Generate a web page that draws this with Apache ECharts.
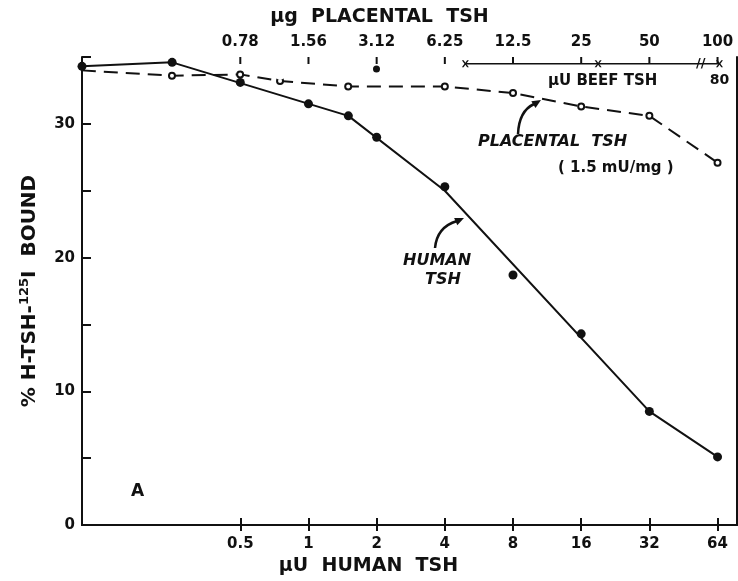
<!DOCTYPE html>
<html>
<head>
<meta charset="utf-8">
<script src="https://cdn.jsdelivr.net/npm/echarts@6/dist/echarts.min.js"></script>
<style>
  html, body { margin: 0; padding: 0; background: #fff; }
  #chart { width: 738px; height: 581px; }
</style>
</head>
<body>
<div id="chart"></div>
<script>
// bottom axis: uU human TSH, top axis: ug placental TSH (0.78 ug sits over 0.5 uU)
var humanTicks = [0.5, 1, 2, 4, 8, 16, 32, 64];
var placentalLabels = ['0.78', '1.56', '3.12', '6.25', '12.5', '25', '50', '100'];
var ugPerUU = 1.5625;
var humanRange = [0.1, 78];
var boundRange = [0, 35];

// human TSH (filled dots), the drawn line is a hand fit, not point to point
var humanDose = [0.1, 0.25, 0.5, 1, 1.5, 2, 4, 8, 16, 32, 64];
var humanBound = [34.3, 34.6, 33.1, 31.5, 30.6, 29.0, 25.3, 18.7, 14.3, 8.5, 5.1];
var humanFitDose = [0.1, 0.25, 1.5, 4, 32, 64];
var humanFitBound = [34.3, 34.6, 30.6, 25.0, 8.5, 5.1];

// placental TSH in ug (open circles, dashed)
var placentalDose = [0.156, 0.39, 0.78, 1.17, 2.34, 6.25, 12.5, 25, 50, 100];
var placentalBound = [34.0, 33.6, 33.7, 33.2, 32.8, 32.8, 32.3, 31.3, 30.6, 27.1];
var placentalExtraDose = [1.17, 1.56];
var placentalExtraBound = [33.6, 32.6];
var strayDose = [3.12];
var strayBound = [34.1];

// beef TSH scale marks along the top (placed in ug placental units)
var beefPos = [7.7, 29.7, 102];
var beefLevel = 34.5;
var beefLabels = ['', '', '80'];

function pairs(xs, ys, k) {
  return xs.map(function (x, i) { return [x / (k || 1), ys[i]]; });
}

var FONT = 'DejaVu Sans';
var INK = '#111';
var chart = echarts.init(document.getElementById('chart'));

var option = {
  backgroundColor: '#fff',
  animation: false,
  textStyle: { fontFamily: FONT, color: INK },
  grid: { left: 82, right: 1, top: 57, bottom: 51 },
  xAxis: [
    {
      type: 'log', logBase: 2, position: 'bottom',
      min: humanRange[0], max: humanRange[1],
      name: '\u00b5U  HUMAN  TSH', nameLocation: 'middle', nameGap: 26,
      nameTextStyle: { fontSize: 19, fontWeight: 'bold', color: INK, padding: [0, 82, 0, 0] },
      axisLine: { show: true, lineStyle: { color: INK, width: 2 } },
      axisTick: { show: true, inside: true, length: 7, lineStyle: { color: INK, width: 2 }, customValues: humanTicks },
      axisLabel: { customValues: humanTicks, margin: 12, fontSize: 15, fontWeight: 'bold', color: INK,
        formatter: function (v) { return String(+v.toFixed(2)); } },
      splitLine: { show: false }
    },
    {
      // same scale as the bottom, labelled in ug of placental TSH
      type: 'log', logBase: 2, position: 'top',
      min: humanRange[0], max: humanRange[1],
      name: '\u00b5g  PLACENTAL  TSH', nameLocation: 'middle', nameGap: 30,
      nameTextStyle: { fontSize: 19, fontWeight: 'bold', color: INK, padding: [0, 60, 0, 0] },
      axisLine: { show: true, lineStyle: { color: INK, width: 2 } },
      axisTick: { show: true, inside: true, length: 6, lineStyle: { color: INK, width: 2 }, customValues: humanTicks },
      axisLabel: { customValues: humanTicks, margin: 7, fontSize: 15, fontWeight: 'bold', color: INK,
        formatter: function (v) {
          var i = humanTicks.indexOf(+v.toFixed(2));
          return i >= 0 ? placentalLabels[i] : '';
        } },
      splitLine: { show: false }
    }
  ],
  yAxis: [
    {
      type: 'value', position: 'left', min: boundRange[0], max: boundRange[1], interval: 5,
      name: '{m|% H-TSH-}{s|125}{m|I  BOUND}', nameLocation: 'middle', nameGap: 40,
      nameTextStyle: {
        rich: {
          m: { fontSize: 20, fontWeight: 'bold', color: INK, lineHeight: 24, fontFamily: FONT },
          s: { fontSize: 13, fontWeight: 'bold', color: INK, lineHeight: 12, verticalAlign: 'top', fontFamily: FONT }
        }
      },
      axisLine: { show: true, lineStyle: { color: INK, width: 2 } },
      axisTick: { show: true, inside: true, length: 9, lineStyle: { color: INK, width: 2 } },
      axisLabel: { margin: 7, fontSize: 15, fontWeight: 'bold', color: INK,
        formatter: function (v) { return v % 10 === 0 && v < 35 ? String(v) : ''; } },
      splitLine: { show: false }
    },
    {
      type: 'value', position: 'right', min: boundRange[0], max: boundRange[1],
      axisLine: { show: true, lineStyle: { color: INK, width: 2 } },
      axisTick: { show: false }, axisLabel: { show: false }, splitLine: { show: false }
    }
  ],
  series: [
    {
      // tick marks hanging from the top axis
      name: 'top ticks', type: 'scatter', xAxisIndex: 1, yAxisIndex: 0,
      data: humanTicks.map(function (t) { return [t, boundRange[1]]; }),
      symbol: 'rect', symbolSize: [2, 7], symbolOffset: [0, 3.5],
      itemStyle: { color: INK, opacity: 1 }, silent: true, clip: false
    },
    {
      name: 'human fit', type: 'line', xAxisIndex: 0, yAxisIndex: 0,
      data: pairs(humanFitDose, humanFitBound),
      showSymbol: false, lineStyle: { color: INK, width: 2 }, z: 2
    },
    {
      name: 'human', type: 'scatter', xAxisIndex: 0, yAxisIndex: 0,
      data: pairs(humanDose, humanBound),
      symbol: 'circle', symbolSize: 9, itemStyle: { color: INK, opacity: 1 }, z: 4
    },
    {
      name: 'placental', type: 'line', xAxisIndex: 1, yAxisIndex: 0,
      data: pairs(placentalDose, placentalBound, ugPerUU).map(function (p, i) {
        return i === 0 ? { value: p, symbol: 'none' } : p;
      }),
      symbol: 'emptyCircle', symbolSize: 6,
      itemStyle: { color: INK, borderWidth: 2 },
      lineStyle: { color: INK, width: 2, type: [14, 8] }, z: 3
    },
    {
      name: 'placental extra', type: 'scatter', xAxisIndex: 1, yAxisIndex: 0,
      data: pairs(placentalExtraDose, placentalExtraBound, ugPerUU),
      symbol: 'emptyCircle', symbolSize: 6,
      itemStyle: { color: '#fff', borderColor: INK, borderWidth: 2, opacity: 1 }, z: 3
    },
    {
      name: 'stray', type: 'scatter', xAxisIndex: 1, yAxisIndex: 0,
      data: pairs(strayDose, strayBound, ugPerUU),
      symbol: 'circle', symbolSize: 7, itemStyle: { color: INK, opacity: 1 }
    },
    {
      name: 'beef', type: 'line', xAxisIndex: 1, yAxisIndex: 0,
      data: beefPos.map(function (x, i) {
        return { value: [x / ugPerUU, beefLevel], label: { show: !!beefLabels[i], formatter: beefLabels[i] } };
      }),
      symbol: 'path://M0,0L2.5,0L5,3.5L7.5,0L10,0L6.3,5L10,10L7.5,10L5,6.5L2.5,10L0,10L3.7,5Z',
      symbolSize: 7, itemStyle: { color: INK },
      lineStyle: { color: INK, width: 1.5 },
      label: { position: 'bottom', distance: 6, fontSize: 14, fontWeight: 'bold', color: INK }
    }
  ],
  graphic: [
    { type: 'text', left: 696, top: 57, style: { text: '//', fontSize: 13, fontWeight: 'bold', fontFamily: FONT, fill: INK } },
    { type: 'text', left: 548, top: 74, style: { text: '\u00b5U BEEF TSH', fontSize: 15, fontWeight: 'bold', fontFamily: FONT, fill: INK } },
    { type: 'text', left: 478, top: 134, style: { text: 'PLACENTAL  TSH', fontSize: 16, fontStyle: 'italic', fontWeight: 'bold', fontFamily: FONT, fill: INK } },
    { type: 'text', left: 558, top: 161, style: { text: '( 1.5 mU/mg )', fontSize: 15, fontWeight: 'bold', fontFamily: FONT, fill: INK } },
    { type: 'text', left: 403, top: 253, style: { text: 'HUMAN', fontSize: 16, fontStyle: 'italic', fontWeight: 'bold', fontFamily: FONT, fill: INK } },
    { type: 'text', left: 425, top: 272, style: { text: 'TSH', fontSize: 16, fontStyle: 'italic', fontWeight: 'bold', fontFamily: FONT, fill: INK } },
    { type: 'text', left: 131, top: 483, style: { text: 'A', fontSize: 17, fontWeight: 'bold', fontFamily: FONT, fill: INK } },
    // arrows to the curves
    { type: 'bezierCurve', shape: { x1: 518, y1: 134, cpx1: 519, cpy1: 111, x2: 534, y2: 104 }, style: { stroke: INK, lineWidth: 2.5, fill: null } },
    { type: 'polygon', shape: { points: [[541, 100], [535.5, 108.1], [531.3, 101.3]] }, style: { fill: INK } },
    { type: 'bezierCurve', shape: { x1: 435, y1: 248, cpx1: 437, cpy1: 227, x2: 457, y2: 221 }, style: { stroke: INK, lineWidth: 2.5, fill: null } },
    { type: 'polygon', shape: { points: [[464, 218], [457.3, 225.3], [454.1, 217.9]] }, style: { fill: INK } }
  ]
};

chart.setOption(option);
</script>
</body>
</html>
